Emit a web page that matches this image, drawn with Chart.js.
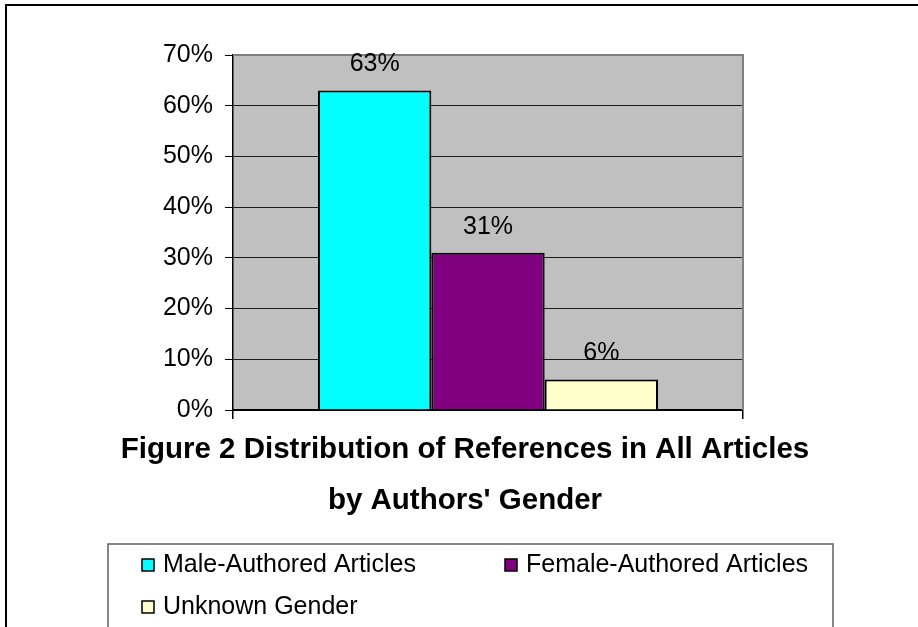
<!DOCTYPE html>
<html>
<head>
<meta charset="utf-8">
<script src="https://cdn.jsdelivr.net/npm/chart.js@4.4.1/dist/chart.umd.min.js"></script>
<style>
  html, body { margin: 0; padding: 0; background: #ffffff; }
  #wrap { position: relative; width: 918px; height: 627px; }
</style>
</head>
<body>
<div id="wrap"><canvas id="c"></canvas></div>
<script>
// ---- data ----
const categories = [''];
const seriesNames = ['Male-Authored Articles', 'Female-Authored Articles', 'Unknown Gender'];
const maleValues = [63];
const femaleValues = [31];
const unknownValues = [6];
const yTickValues = [0, 10, 20, 30, 40, 50, 60, 70];
const titleLines = ['Figure 2 Distribution of References in All Articles', "by Authors' Gender"];

const FONT = "'Liberation Sans', Arial, sans-serif";
const seriesColors = ['#00FFFF', '#800080', '#FFFFCC'];

const plotBg = {
  id: 'plotBg',
  beforeDraw(chart) {
    const { ctx, chartArea: a } = chart;
    ctx.save();
    ctx.fillStyle = '#ffffff';
    ctx.fillRect(0, 0, chart.width, chart.height);
    ctx.fillStyle = '#C0C0C0';
    ctx.fillRect(a.left, a.top, a.right - a.left, a.bottom - a.top);
    ctx.restore();
  },
  afterDraw(chart) {
    const { ctx, chartArea: a } = chart;
    ctx.save();
    ctx.strokeStyle = '#808080';
    ctx.lineWidth = 2;
    ctx.beginPath();
    ctx.moveTo(a.left, a.top);
    ctx.lineTo(a.right, a.top);
    ctx.lineTo(a.right, a.bottom);
    ctx.stroke();
    ctx.strokeStyle = '#000000';
    ctx.lineWidth = 2;
    ctx.beginPath();
    ctx.moveTo(6, 640);
    ctx.lineTo(6, 5);
    ctx.lineTo(930, 5);
    ctx.stroke();
    ctx.restore();
  }
};

const valueLabels = {
  id: 'valueLabels',
  afterDraw(chart) {
    const { ctx } = chart;
    ctx.save();
    ctx.font = '25px ' + FONT;
    ctx.fillStyle = '#000';
    ctx.textAlign = 'center';
    ctx.textBaseline = 'middle';
    chart.data.datasets.forEach((ds, i) => {
      const meta = chart.getDatasetMeta(i);
      meta.data.forEach((bar, j) => {
        ctx.fillText(ds.data[j] + '%', bar.x, bar.y - 26);
      });
    });
    ctx.restore();
  }
};

const boxLegend = {
  id: 'boxLegend',
  afterDraw(chart) {
    const { ctx } = chart;
    ctx.save();
    ctx.strokeStyle = '#606060';
    ctx.lineWidth = 1.5;
    ctx.strokeRect(108, 544, 833 - 108, 120);
    const pos = [[142, 565], [505, 565], [142, 607]];
    ctx.font = '25px ' + FONT;
    ctx.textBaseline = 'middle';
    ctx.textAlign = 'left';
    chart.data.datasets.forEach((ds, i) => {
      const [x, y] = pos[i];
      ctx.fillStyle = ds.backgroundColor;
      ctx.fillRect(x, y - 6, 12, 12);
      ctx.strokeStyle = '#000';
      ctx.lineWidth = 1.5;
      ctx.strokeRect(x, y - 6, 12, 12);
      ctx.fillStyle = '#000';
      ctx.fillText(ds.label, x + 21, y);
    });
    ctx.restore();
  }
};

const datasets = [maleValues, femaleValues, unknownValues].map((vals, i) => ({
  label: seriesNames[i],
  data: vals,
  backgroundColor: seriesColors[i],
  borderColor: '#000000',
  borderWidth: 2,
  categoryPercentage: 2 / 3,
  barPercentage: 1.0
}));

new Chart(document.getElementById('c'), {
  type: 'bar',
  data: { labels: categories, datasets },
  options: {
    responsive: true,
    maintainAspectRatio: false,
    devicePixelRatio: 1,
    animation: false,
    layout: { padding: { left: 12, right: 0, top: 55, bottom: 100.5 } },
    plugins: {
      legend: { display: false },
      tooltip: { enabled: false },
      title: {
        display: true,
        position: 'bottom',
        text: titleLines,
        color: '#000',
        font: { family: FONT, size: 29.5, weight: 'bold', lineHeight: 51 / 29.5 },
        padding: { top: 4.5, bottom: 0 }
      }
    },
    scales: {
      x: {
        type: 'category',
        offset: true,
        grid: { display: true, offset: true, drawOnChartArea: false, drawTicks: true, tickLength: 9, color: '#000', lineWidth: 1.5 },
        border: { display: true, color: '#000', width: 2 },
        ticks: { display: false },
        afterFit(s) { s.height = 10; }
      },
      y: {
        position: 'left',
        min: 0, max: 70,
        afterBuildTicks(s) { s.ticks = yTickValues.map(v => ({ value: v })); },
        grid: {
          drawTicks: true, tickLength: 8,
          color: (c) => (c.tick && c.tick.value === 70 ? 'rgba(0,0,0,0)' : '#1a1a1a'),
          tickColor: '#000',
          lineWidth: 1
        },
        border: { display: true, color: '#000', width: 1.5 },
        ticks: {
          padding: 12,
          color: '#000',
          font: { family: FONT, size: 25 },
          callback: (v) => v + '%'
        },
        afterFit(s) { s.width = 221; }
      },
      yRight: {
        position: 'right',
        display: true,
        grid: { display: false, drawTicks: false },
        border: { display: false },
        ticks: { display: false },
        afterFit(s) { s.width = 175; }
      }
    }
  },
  plugins: [plotBg, valueLabels, boxLegend]
});
</script>
</body>
</html>
